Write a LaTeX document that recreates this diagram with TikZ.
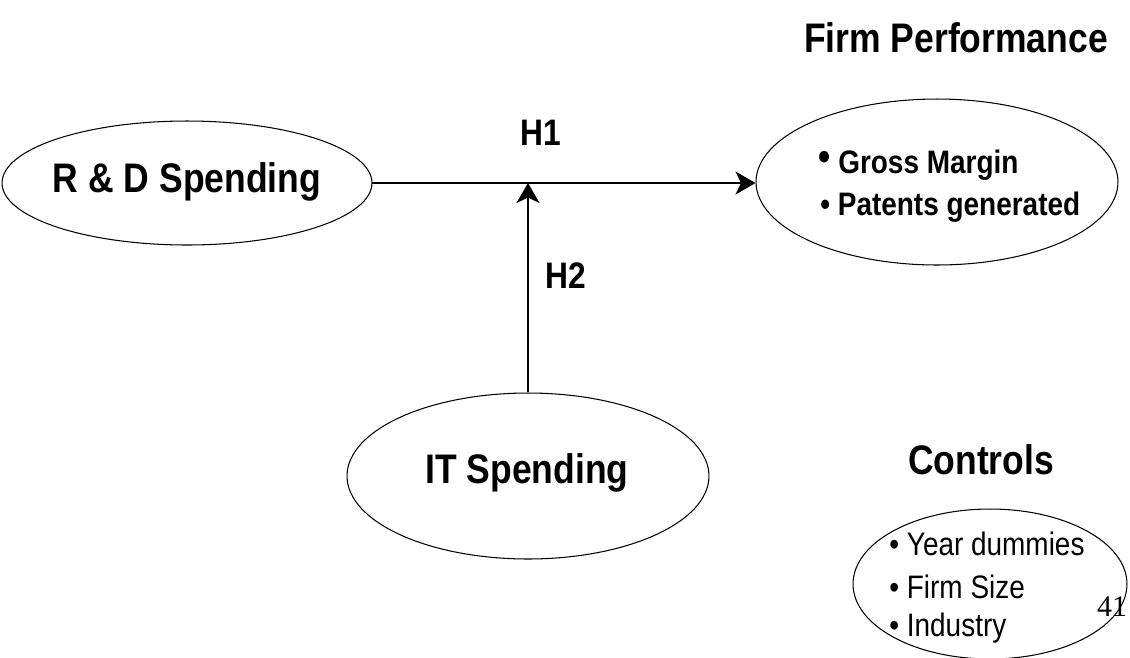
\documentclass[tikz,border=0pt]{standalone}
\usepackage{fontspec}
\setmainfont{Liberation Sans}[FakeStretch=0.86]
\newfontfamily\serifnum{Liberation Serif}
\usetikzlibrary{shapes.geometric,arrows.meta}
\tikzset{
  oval/.style={draw, ellipse, line width=0.6pt, inner sep=0pt},
  big/.style={font=\fontsize{23.5}{28}\selectfont\bfseries},
  hyp/.style={font=\fontsize{21}{24}\selectfont\bfseries},
  item/.style={anchor=west, inner sep=0pt, font=\fontsize{18.5}{22}\selectfont},
  itemb/.style={anchor=west, inner sep=0pt, font=\fontsize{18.5}{22}\selectfont\bfseries},
  arr/.style={line width=1.1pt, -{Stealth[length=0.4cm,width=0.46cm,inset=0.11cm]}},
}
\begin{document}
\begin{tikzpicture}[x=0.02cm,y=-0.02cm]
\useasboundingbox (0,0) rectangle (1130,657);
\clip (0,0) rectangle (1130,657);
\node[oval, minimum width=7.4cm, minimum height=2.48cm] (rd) at (187,183) {};
\node[big] (rdt) at (187,182) {R \& D Spending};
\node[oval, minimum width=7.24cm, minimum height=3.32cm] (fp) at (937,182) {};
\node[oval, minimum width=7.24cm, minimum height=3.32cm] (it) at (528,476) {};
\node[big] (itt) at (527,473) {IT Spending};
\node[oval, minimum width=5.48cm, minimum height=3.0cm] (ct) at (990,584) {};
\node[big] (fpt) at (956,38) {Firm Performance};
\node[big] (ctt) at (981,460) {Controls};
\node[hyp] (h1) at (541,133) {H1};
\node[hyp] (h2) at (566,276) {H2};
\node[itemb] (g1) at (818,165) {\raisebox{1.5pt}{\fontsize{23}{23}\selectfont•} Gross Margin};
\node[itemb] (g2) at (820,207) {• Patents generated};
\node[item] (c1) at (889,544) {• Year dummies};
\node[item] (c2) at (889,587) {• Firm Size};
\node[item] (c3) at (889,628) {• Industry};
\node[font=\serifnum\fontsize{17}{20}\selectfont, inner sep=0pt] (pg) at (1112,607) {41};
\coordinate (j) at (528,183);
\draw[arr] (rd.east) -- (fp.west |- rd.east);
\draw[arr] (it.north) -- (j);
\end{tikzpicture}
\end{document}
